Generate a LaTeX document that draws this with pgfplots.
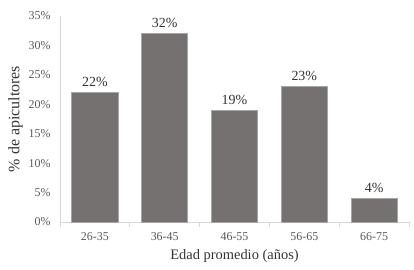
\documentclass[border=0pt]{standalone}
\usepackage{pgfplots}
\pgfplotsset{compat=1.18}
\usepackage{fontspec}
\setmainfont{Liberation Serif}
\definecolor{barfill}{HTML}{767171}
\definecolor{baredge}{HTML}{A6A6A6}
\definecolor{axisgrey}{HTML}{D9D9D9}
\definecolor{ticktext}{HTML}{595959}
\begin{document}
\begin{tikzpicture}
\begin{axis}[
  scale only axis,
  width=349bp, height=206bp,
  xmin=-0.5, xmax=4.5,
  ymin=0, ymax=35,
  ytick={0,5,...,35},
  yticklabel={\pgfmathparse{int(\tick)}\pgfmathresult\%},
  /pgf/number format/assume math mode=true,
  xtick={0,1,2,3,4},
  xticklabels={26-35,36-45,46-55,56-65,66-75},
  minor xtick={-0.5,0.5,1.5,2.5,3.5,4.5},
  major tick length=0pt,
  minor tick length=5bp,
  tick align=outside,
  minor tick style={axisgrey, line width=0.8bp},
  axis x line*=bottom,
  axis y line*=left,
  axis line style={axisgrey, line width=0.8bp, -},
  ticklabel style={font=\fontsize{12}{14}\selectfont, text=ticktext},
  yticklabel style={xshift=-6bp},
  xticklabel style={yshift=-7bp},
  xlabel={Edad promedio (años)},
  ylabel={\% de apicultores},
  xlabel style={font=\fontsize{14.5}{16}\selectfont, text=black!80, yshift=-2bp},
  ylabel style={font=\fontsize{16}{18}\selectfont, text=black!80, yshift=-1bp},
  ybar,
  bar width=0.66,
  nodes near coords={\pgfmathprintnumber{\pgfplotspointmeta}\%},
  nodes near coords style={font=\fontsize{14}{16}\selectfont, text=black!80, yshift=2bp},
  clip=false,
]
\addplot[fill=barfill, draw=baredge, line width=0.8bp] coordinates {(0,22) (1,32) (2,19) (3,23) (4,4)};
\end{axis}
\pgfresetboundingbox
\path ([xshift=-60bp,yshift=-47bp]current axis.south west) rectangle ([xshift=5bp,yshift=16bp]current axis.north east);
\end{tikzpicture}
\end{document}
